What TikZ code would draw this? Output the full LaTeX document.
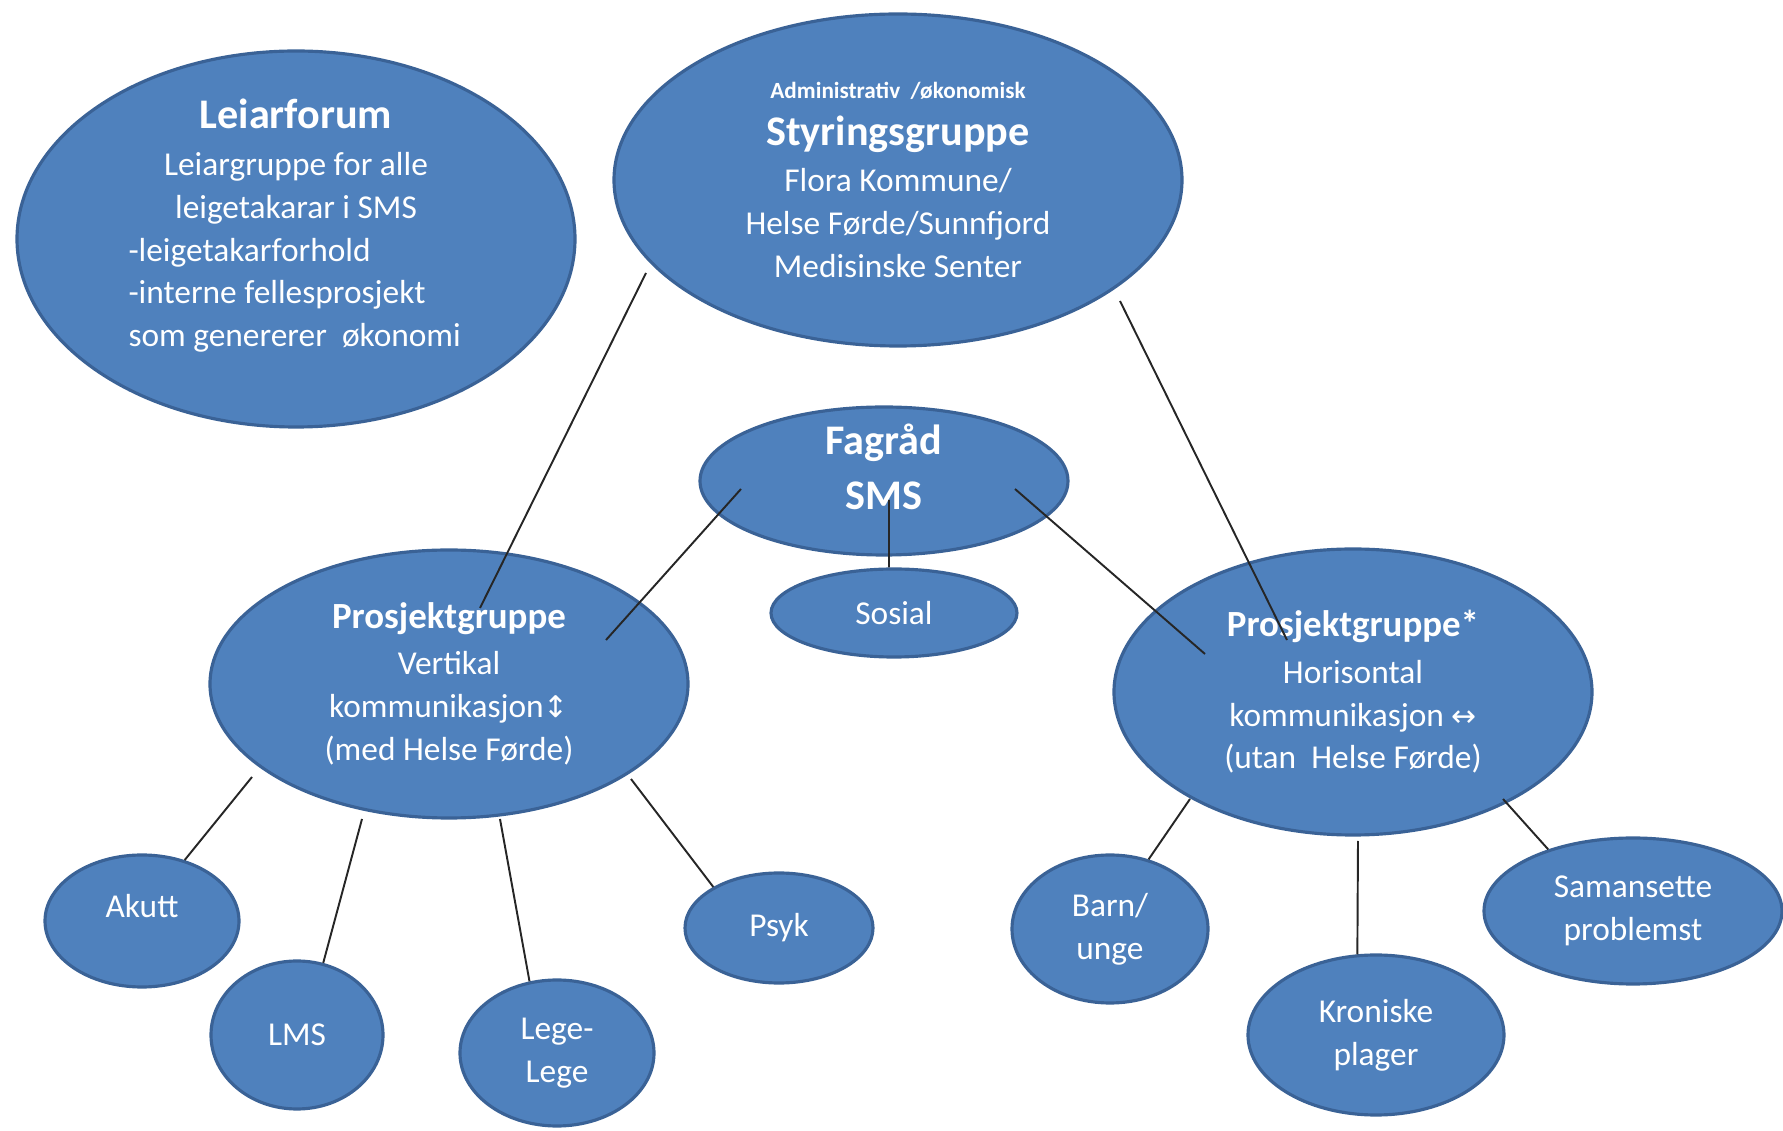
\documentclass[tikz,border=0pt]{standalone}
\usepackage{fontspec}
\setmainfont{Carlito}
\newfontfamily\arrowfont{DejaVu Sans}
\usepackage{xcolor}
\usepackage{tikz}
\usetikzlibrary{shapes,positioning,calc}
\definecolor{blobfill}{HTML}{4F81BD}
\definecolor{blobline}{HTML}{3A6296}
\newcommand{\lft}[1]{\makebox[3.35cm][l]{#1}}

\begin{document}
\begin{tikzpicture}[
    blobtext/.style={text=white, inner sep=0pt, align=center, font=\fontsize{9.5}{12.2}\selectfont},
    blob/.style={ellipse, draw=blobline, fill=blobfill, line width=0.9pt, blobtext},
    link/.style={draw=black!85, line width=0.55pt}]
        \useasboundingbox (0,0) rectangle (17.83,11.31);

        % Top level
        \node[blob, minimum width=5.58cm, minimum height=3.76cm] (leiar) at (2.96,8.92) {};
        \node[blobtext] (leiartext) at ([yshift=1.3mm]leiar.center)
          {\textbf{\fontsize{12}{14}\selectfont Leiarforum}\\[1pt]
           Leiargruppe for alle\\ leigetakarar i SMS\\ \lft{-leigetakarforhold}\\
           \lft{-interne fellesprosjekt}\\ \lft{som genererer\ \ økonomi}};
        \node[blob, minimum width=5.68cm, minimum height=3.32cm] (styr) at (8.98,9.51)
          {{\bfseries\fontsize{6.6}{8}\selectfont Administrativ\ \ /økonomisk}\\[1pt]
           \textbf{\fontsize{12}{14}\selectfont Styringsgruppe}\\[1pt]
           Flora Kommune/\\ Helse Førde/Sunnfjord\\ Medisinske Senter};

        % Fagråd
        \node[blob, minimum width=3.68cm, minimum height=1.48cm] (fag) at (8.84,6.50) {};
        \node[blobtext, font=\bfseries\fontsize{12}{15.6}\selectfont] (fagtext)
          at ([yshift=1.4mm]fag.center) {Fagråd\\ SMS};
        \node[blob, minimum width=2.46cm, minimum height=0.88cm] (sosial) at (8.94,5.18) {Sosial};

        % Prosjektgrupper
        \node[blob, minimum width=4.78cm, minimum height=2.68cm] (prosjL) at (4.49,4.47)
          {\textbf{\fontsize{10.5}{12}\selectfont Prosjektgruppe}\\[1pt]
           Vertikal\\ kommunikasjon{\arrowfont\fontsize{8.5}{10}\selectfont ↕}\\ (med Helse Førde)};
        \node[blob, minimum width=4.78cm, minimum height=2.86cm] (prosjR) at (13.53,4.39)
          {\textbf{\fontsize{10.5}{12}\selectfont Prosjektgruppe*}\\[1pt]
           Horisontal\\ kommunikasjon {\arrowfont\fontsize{8.5}{10}\selectfont ↔}\\ (utan\ \ Helse Førde)};

        % Vertikal
        \node[blob, minimum width=1.94cm, minimum height=1.32cm] (akutt) at (1.42,2.10) {};
        \node[blobtext] (akutttext) at ([yshift=1.5mm]akutt.center) {Akutt};
        \node[blob, minimum width=1.72cm, minimum height=1.48cm] (lms) at (2.97,0.96) {LMS};
        \node[blob, minimum width=1.94cm, minimum height=1.46cm] (lege) at (5.57,0.78) {Lege-\\ Lege};
        \node[blob, minimum width=1.88cm, minimum height=1.10cm] (psyk) at (7.79,2.03) {Psyk};

        % Horisontal
        \node[blob, minimum width=1.96cm, minimum height=1.48cm] (barn) at (11.10,2.02) {Barn/\\ unge};
        \node[blob, minimum width=2.56cm, minimum height=1.60cm] (kron) at (13.76,0.96) {Kroniske\\ plager};
        \node[blob, minimum width=2.98cm, minimum height=1.46cm] (saman) at (16.33,2.20) {Samansette\\ problemst};

        % Connectors
        \draw[link] ([shift={(-2.52,-0.93)}]styr.center) -- ([shift={(0.31,0.76)}]prosjL.center);
        \draw[link] ([shift={(2.22,-1.21)}]styr.center) -- ([shift={(-0.66,0.52)}]prosjR.center);
        \draw[link] ([shift={(-1.43,-0.08)}]fag.center) -- ([shift={(1.57,0.44)}]prosjL.center);
        \draw[link] ([shift={(1.31,-0.08)}]fag.center) -- ([shift={(-1.48,0.38)}]prosjR.center);
        \draw[link] ([shift={(0.05,-0.19)}]fag.center) -- ([xshift=-0.5mm]sosial.north);
        \draw[link] ([shift={(-1.97,-0.93)}]prosjL.center) -- (akutt.55);
        \draw[link] ([shift={(-0.87,-1.35)}]prosjL.center) -- (lms.70);
        \draw[link] ([shift={(0.51,-1.35)}]prosjL.center) -- (lege.111);
        \draw[link] ([shift={(1.82,-0.95)}]prosjL.center) -- (psyk.148);
        \draw[link] ([shift={(-1.63,-1.07)}]prosjR.center) -- (barn.61);
        \draw[link] ([shift={(0.05,-1.49)}]prosjR.center) -- (kron.103);
        \draw[link] ([shift={(1.50,-1.07)}]prosjR.center) -- (saman.144);
    \end{tikzpicture}
\end{document}
